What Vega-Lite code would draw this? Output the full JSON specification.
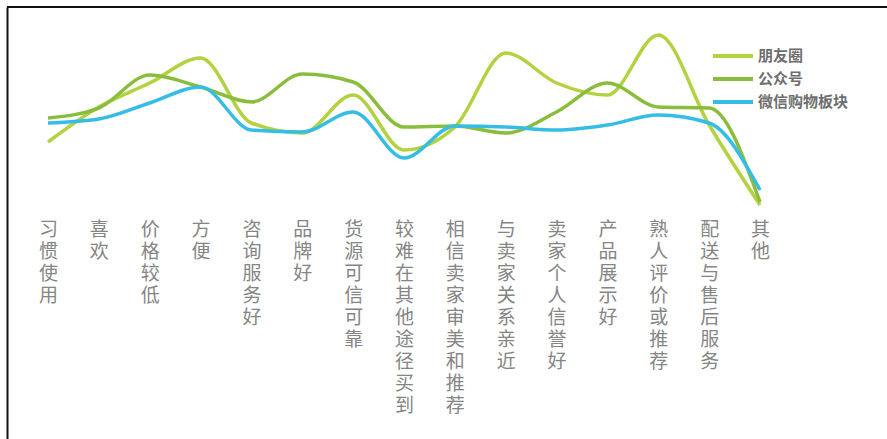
{
  "$schema": "https://vega.github.io/schema/vega-lite/v6.json",
  "width": 880,
  "height": 432,
  "autosize": {"type": "none"},
  "padding": {"left": 7, "top": 7, "right": 0, "bottom": 0},
  "background": "white",
  "config": {"view": {"stroke": null}},
  "data": {
    "values": [
      {"c": "习惯使用", "s": "朋友圈", "v": 21.6},
      {"c": "喜欢", "s": "朋友圈", "v": 28.6},
      {"c": "价格较低", "s": "朋友圈", "v": 33.4},
      {"c": "方便", "s": "朋友圈", "v": 38.4},
      {"c": "咨询服务好", "s": "朋友圈", "v": 25.4},
      {"c": "品牌好", "s": "朋友圈", "v": 23.4},
      {"c": "货源可信可靠", "s": "朋友圈", "v": 31},
      {"c": "较难在其他途径买到", "s": "朋友圈", "v": 20},
      {"c": "相信卖家审美和推荐", "s": "朋友圈", "v": 24.6},
      {"c": "与卖家关系亲近", "s": "朋友圈", "v": 39.4},
      {"c": "卖家个人信誉好", "s": "朋友圈", "v": 33.4},
      {"c": "产品展示好", "s": "朋友圈", "v": 31},
      {"c": "熟人评价或推荐", "s": "朋友圈", "v": 43},
      {"c": "配送与售后服务", "s": "朋友圈", "v": 25},
      {"c": "其他", "s": "朋友圈", "v": 9},
      {"c": "习惯使用", "s": "公众号", "v": 26.4},
      {"c": "喜欢", "s": "公众号", "v": 28.4},
      {"c": "价格较低", "s": "公众号", "v": 35},
      {"c": "方便", "s": "公众号", "v": 32.6},
      {"c": "咨询服务好", "s": "公众号", "v": 29.6},
      {"c": "品牌好", "s": "公众号", "v": 35.2},
      {"c": "货源可信可靠", "s": "公众号", "v": 33.6},
      {"c": "较难在其他途径买到", "s": "公众号", "v": 24.6},
      {"c": "相信卖家审美和推荐", "s": "公众号", "v": 24.8},
      {"c": "与卖家关系亲近", "s": "公众号", "v": 23.4},
      {"c": "卖家个人信誉好", "s": "公众号", "v": 27.6},
      {"c": "产品展示好", "s": "公众号", "v": 33.4},
      {"c": "熟人评价或推荐", "s": "公众号", "v": 28.6},
      {"c": "配送与售后服务", "s": "公众号", "v": 28.4},
      {"c": "其他", "s": "公众号", "v": 9.6},
      {"c": "习惯使用", "s": "微信购物板块", "v": 25.4},
      {"c": "喜欢", "s": "微信购物板块", "v": 26.2},
      {"c": "价格较低", "s": "微信购物板块", "v": 29.4},
      {"c": "方便", "s": "微信购物板块", "v": 32.6},
      {"c": "咨询服务好", "s": "微信购物板块", "v": 24},
      {"c": "品牌好", "s": "微信购物板块", "v": 23.6},
      {"c": "货源可信可靠", "s": "微信购物板块", "v": 27.6},
      {"c": "较难在其他途径买到", "s": "微信购物板块", "v": 18.4},
      {"c": "相信卖家审美和推荐", "s": "微信购物板块", "v": 24.8},
      {"c": "与卖家关系亲近", "s": "微信购物板块", "v": 24.6},
      {"c": "卖家个人信誉好", "s": "微信购物板块", "v": 24},
      {"c": "产品展示好", "s": "微信购物板块", "v": 25},
      {"c": "熟人评价或推荐", "s": "微信购物板块", "v": 27},
      {"c": "配送与售后服务", "s": "微信购物板块", "v": 25.4},
      {"c": "其他", "s": "微信购物板块", "v": 12}
    ]
  },
  "layer": [
    {
      "mark": {"type": "rule", "color": "#111111", "strokeWidth": 2},
      "encoding": {"y": {"datum": 48.6}}
    },
    {
      "mark": {"type": "line", "interpolate": "monotone", "strokeWidth": 3.5},
      "encoding": {
        "x": {
          "field": "c",
          "type": "nominal",
          "sort": null,
          "scale": {"type": "point", "range": [41, 753], "padding": 0},
          "axis": {
            "orient": "top",
            "title": null,
            "domain": false,
            "ticks": false,
            "tickSize": 0,
            "grid": false,
            "labelAngle": 0,
            "labelAlign": "center",
            "labelBaseline": "top",
            "labelPadding": -213,
            "labelExpr": "split(datum.label, '')",
            "labelLineHeight": 22,
            "labelFont": "Noto Sans CJK SC",
            "labelFontSize": 19,
            "labelColor": "#858585",
            "labelOverlap": false,
            "labelFlush": false,
            "labelBound": false
          }
        },
        "y": {
          "field": "v",
          "type": "quantitative",
          "scale": {"domain": [-37.8, 48.6], "zero": false, "nice": false},
          "axis": {
            "orient": "left",
            "title": null,
            "domain": true,
            "domainColor": "#111111",
            "domainWidth": 2,
            "ticks": false,
            "labels": false,
            "grid": false
          }
        },
        "color": {
          "field": "s",
          "type": "nominal",
          "sort": ["朋友圈", "公众号", "微信购物板块"],
          "scale": {"domain": ["朋友圈", "公众号", "微信购物板块"], "range": ["#b2d240", "#8bbd3c", "#35bde6"]},
          "legend": {
            "orient": "none",
            "legendX": 714,
            "legendY": 37,
            "title": null,
            "padding": 0,
            "symbolType": "M-2,0H2",
            "symbolSize": 400,
            "symbolStrokeWidth": 4,
            "symbolFillColor": null,
            "rowPadding": 3,
            "labelOffset": 13,
            "labelFont": "Noto Sans CJK SC",
            "labelFontSize": 15,
            "labelFontWeight": "bold",
            "labelColor": "#6e6e6e"
          }
        }
      }
    }
  ]
}
